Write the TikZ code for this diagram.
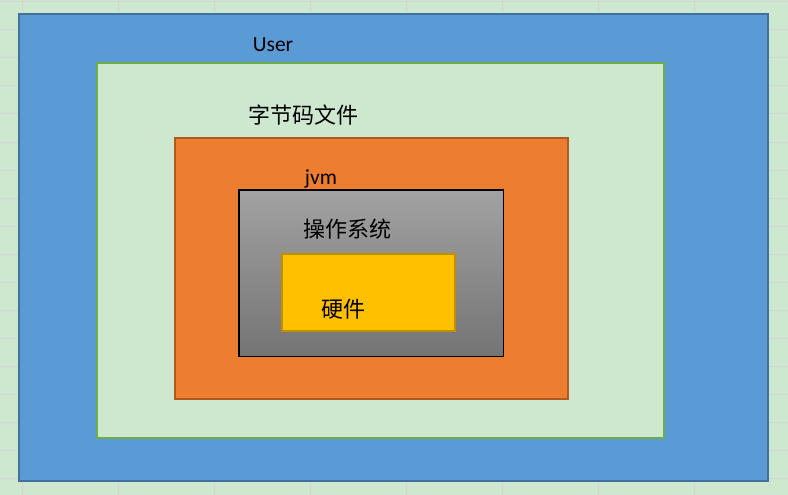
\documentclass[tikz,border=0pt]{standalone}
\usepackage{fontspec}
\setmainfont{Carlito}
\newfontfamily\cjk{Noto Sans CJK SC}
\definecolor{bgc}{RGB}{205,232,207}
\definecolor{gridc}{RGB}{212,212,212}
\definecolor{bluef}{RGB}{91,155,213}
\definecolor{blued}{RGB}{65,113,156}
\definecolor{greenf}{RGB}{205,232,207}
\definecolor{greend}{RGB}{112,173,71}
\definecolor{orangef}{RGB}{237,125,49}
\definecolor{oranged}{RGB}{174,90,33}
\definecolor{graytop}{RGB}{162,162,162}
\definecolor{graybot}{RGB}{116,116,116}
\definecolor{yellowf}{RGB}{255,192,0}
\definecolor{yellowd}{RGB}{191,144,0}
\tikzset{
  gridline/.style={draw=gridc, line width=1pt},
  lbl/.style={font=\fontsize{21.5}{24}\selectfont, text=black, inner sep=0pt},
  cjklbl/.style={font=\cjk\fontsize{22}{26}\selectfont, text=black, inner sep=0pt},
}
\begin{document}
\begin{tikzpicture}[x=1pt,y=-1pt]
\useasboundingbox (0,0) rectangle (788,495);
\fill[bgc] (0,0) rectangle (788,495);
\foreach \y in {2,30,...,494} \draw[gridline] (0,\y) -- (788,\y);
\foreach \x in {22.5,118.5,...,788} \draw[gridline] (\x,0) -- (\x,495);
% boxes
\draw[fill=bluef, draw=blued, line width=2pt] (18.5,14) rectangle (768,481);
\draw[fill=greenf, draw=greend, line width=2pt] (97,63) rectangle (664,438);
\draw[fill=orangef, draw=oranged, line width=1.5pt] (175,138) rectangle (568,399);
\shade[top color=graytop, bottom color=graybot] (239,190) rectangle (503.5,356.5);
\draw[black, line width=1.8pt] (239,190) rectangle (503.5,356.5);
\draw[fill=yellowf, draw=yellowd, line width=1.5pt] (282,254) rectangle (455,331);
% labels
\node[lbl, anchor=base] (user) at (273,51.5) {User};
\node[cjklbl] (bytecode) at (303,115) {字节码文件};
\node[lbl, anchor=base] (jvm) at (321,184.5) {jvm};
\node[cjklbl] (os) at (347,229.5) {操作系统};
\node[cjklbl] (hw) at (343,309) {硬件};
\end{tikzpicture}
\end{document}
